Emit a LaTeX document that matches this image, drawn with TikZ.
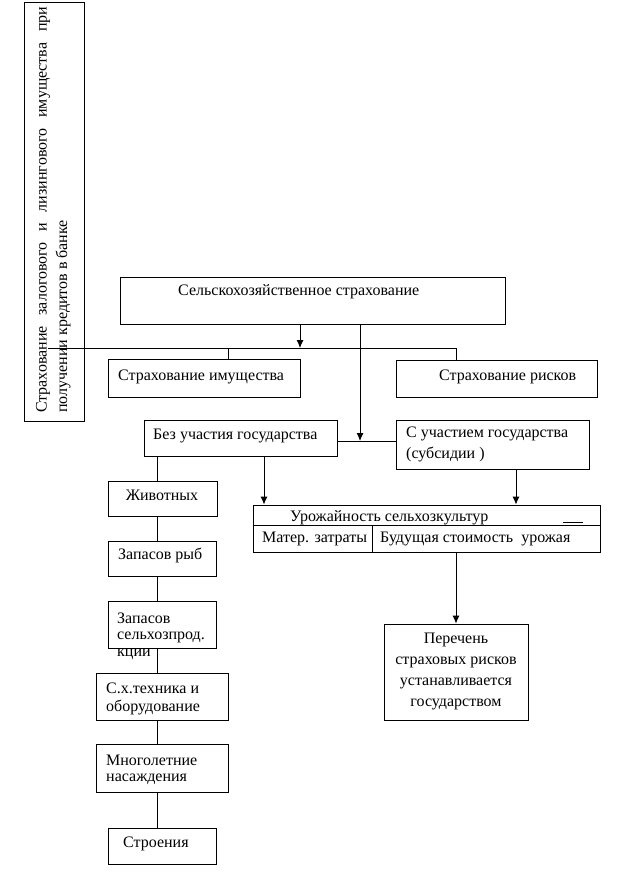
\documentclass[tikz,border=0pt]{standalone}
\usepackage{fontspec}
\setmainfont{Liberation Serif}
\usetikzlibrary{arrows.meta}
\begin{document}
\begin{tikzpicture}[x=1pt,y=-1pt,
  box/.style={draw,line width=0.9pt,fill=white,inner sep=0},
  ln/.style={line width=0.9pt},
  arr/.style={ln,-{Latex[length=8pt,width=7pt]}},
  txt/.style={font=\fontsize{16}{21}\selectfont,inner sep=0,anchor=west},
  ctxt/.style={font=\fontsize{16}{21}\selectfont,inner sep=0,align=center}]
\useasboundingbox (0,0) rectangle (637,877);
% boxes
\node[box,minimum width=60,minimum height=419] (vert) at (54,211.5) {};
\node[box,minimum width=385,minimum height=47] (main) at (312.5,300.5) {};
\node[box,minimum width=192,minimum height=38] (imush) at (204,378) {};
\node[box,minimum width=201,minimum height=37] (risk) at (496.5,378.5) {};
\node[box,minimum width=193,minimum height=36] (bez) at (240.5,438) {};
\node[box,minimum width=193,minimum height=49] (such) at (492.5,444.5) {};
\node[box,minimum width=347,minimum height=47] (urozh) at (426.5,528.5) {};
\node[box,minimum width=109,minimum height=35] (zhiv) at (162.5,498.5) {};
\node[box,minimum width=108,minimum height=35] (ryb) at (162,558.5) {};
\node[box,minimum width=108,minimum height=47] (selkh) at (162,624.5) {};
\node[box,minimum width=132,minimum height=47] (tech) at (162,696.5) {};
\node[box,minimum width=132,minimum height=48] (mnog) at (162,768) {};
\node[box,minimum width=108,minimum height=36] (stroen) at (162,846) {};
\node[box,minimum width=144,minimum height=96] (perech) at (456,672) {};
% texts
\node[txt,rotate=90,text width=406pt] (vt1) at (43,413) {Страхование\hfill залогового\hfill и\hfill лизингового\hfill имущества\hfill при};
\node[txt,rotate=90] (vt2) at (63,413) {получении кредитов в банке};
\node[txt] (tmain) at (178,292) {Сельскохозяйственное страхование};
\node[txt] (timush) at (118,377) {Страхование имущества};
\node[txt] (trisk) at (439,377) {Страхование рисков};
\node[txt] (tbez) at (153,436) {Без участия государства};
\node[txt] (tsuch1) at (406,434) {С участием государства};
\node[txt] (tsuch2) at (406,454) {(субсидии )};
\node[txt] (turozh) at (290,518) {Урожайность сельхозкультур};
\node[txt] (tmater) at (262,539) {Матер. затраты};
\node[txt] (tbud) at (380,539) {Будущая стоимость\ \ урожая};
\node[ctxt] (tzhiv) at (162,495) {Животных};
\node[txt] (tryb) at (118,555) {Запасов рыб};
\node[txt] (tsel1) at (117,618) {Запасов};
\node[txt] (tsel2) at (117,637) {сельхозпрод.};
\node[txt] (tsel3) at (117,654) {кции};
\node[txt] (ttech1) at (106,688) {С.х.техника и};
\node[txt] (ttech2) at (106,707) {оборудование};
\node[txt] (tmnog1) at (106,760) {Многолетние};
\node[txt] (tmnog2) at (106,779) {насаждения};
\node[txt] (tstroen) at (123,844) {Строения};
\node[ctxt] (tperech) at (456,671) {Перечень\\страховых рисков\\устанавливается\\государством};
% coordinates
\coordinate (hub1) at (300,348);
\coordinate (lstart) at (48,348);
\coordinate (rcorner) at (456,348);
\coordinate (imdrop) at (228,348);
\coordinate (hub2) at (360,441);
\coordinate (a1) at (264,0);
\coordinate (a2) at (516,0);
\coordinate (colx) at (157,0);
\coordinate (inl) at (0,525);
\coordinate (divx) at (372,0);
% connectors
\draw[ln] (lstart) -- (rcorner) -- (risk.north -| rcorner);
\draw[ln] (imdrop) -- (imush.north -| imdrop);
\draw[arr] (main.south -| hub1) -- (hub1);
\draw[arr] (main.south -| hub2) -- (hub2);
\draw[ln] (bez.east |- hub2) -- (such.west |- hub2);
\draw[arr] (bez.south -| a1) -- (urozh.north -| a1);
\draw[arr] (such.south -| a2) -- (urozh.north -| a2);
\draw[arr] (urozh.south -| perech) -- (perech.north);
\draw[ln] (urozh.west |- inl) -- (urozh.east |- inl);
\draw[ln] (divx |- inl) -- (urozh.south -| divx);
\coordinate (sm1) at (563,522.5);
\coordinate (sm2) at (583,522.5);
\draw[ln] (sm1) -- (sm2);
\draw[ln] (bez.south -| colx) -- (zhiv.north -| colx);
\draw[ln] (zhiv.south -| colx) -- (ryb.north -| colx);
\draw[ln] (ryb.south -| colx) -- (selkh.north -| colx);
\draw[ln] (selkh.south -| colx) -- (tech.north -| colx);
\draw[ln] (tech.south -| colx) -- (mnog.north -| colx);
\draw[ln] (mnog.south -| colx) -- (stroen.north -| colx);
\end{tikzpicture}
\end{document}
